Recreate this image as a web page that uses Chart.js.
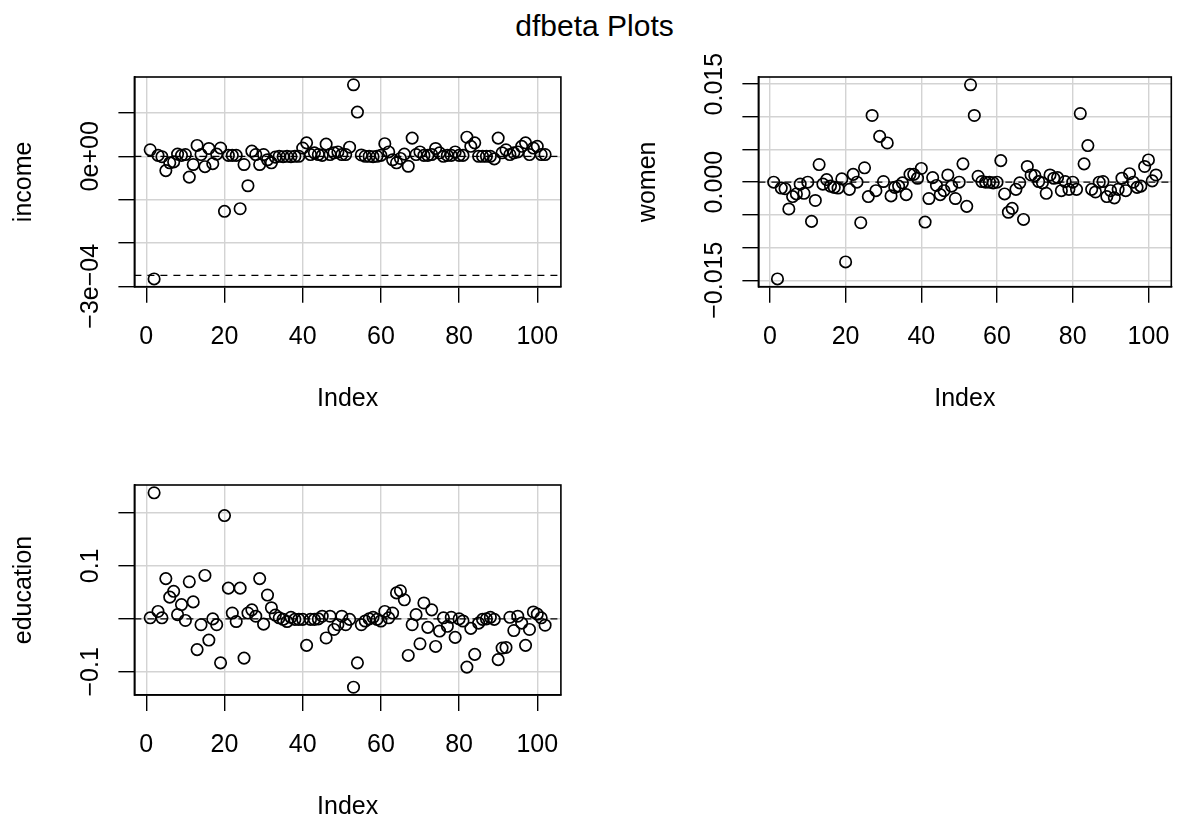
<!DOCTYPE html>
<html>
<head>
<meta charset="utf-8">
<title>dfbeta Plots</title>
<script src="https://cdn.jsdelivr.net/npm/chart.js@4.4.1/dist/chart.umd.min.js"></script>
<style>
  body { margin: 0; background: #fff; }
  #page { position: relative; width: 1189px; height: 821px; overflow: hidden; background: #fff; }
  #page canvas { position: absolute; }
  #main-title {
    position: absolute; left: 0; top: 10.6px; width: 1189px;
    text-align: center; color: #000;
    font: 30px/30px "Liberation Sans", Arial, Helvetica, sans-serif;
  }
</style>
</head>
<body>
<div id="page">
  <div id="main-title">dfbeta Plots</div>
  <canvas id="plot-income" width="594" height="415" style="left:0;top:0"></canvas>
  <canvas id="plot-women" width="595" height="415" style="left:594px;top:0"></canvas>
  <canvas id="plot-education" width="594" height="411" style="left:0;top:410px"></canvas>
</div>
<script>
// dfbeta for each coefficient, one value per observation (index 1..102)
const incomeDfbeta = [
  0.15e-4, -2.83e-4, 0.02e-4, -0.01e-4, -0.33e-4, -0.15e-4, -0.13e-4, 0.05e-4, 0.02e-4, 0.04e-4,
  -0.48e-4, -0.19e-4, 0.25e-4, 0.04e-4, -0.24e-4, 0.18e-4, -0.17e-4, 0.05e-4, 0.19e-4, -1.27e-4,
  0.02e-4, 0.02e-4, 0.02e-4, -1.21e-4, -0.19e-4, -0.68e-4, 0.12e-4, 0.04e-4, -0.19e-4, 0.04e-4,
  -0.08e-4, -0.15e-4, -0.02e-4, 0.00e-4, -0.01e-4, 0.00e-4, -0.01e-4, 0.00e-4, 0.00e-4, 0.19e-4,
  0.31e-4, 0.04e-4, 0.08e-4, 0.04e-4, 0.02e-4, 0.28e-4, 0.04e-4, 0.08e-4, 0.10e-4, 0.04e-4,
  0.04e-4, 0.21e-4, 1.65e-4, 1.02e-4, 0.03e-4, 0.00e-4, 0.00e-4, -0.01e-4, 0.00e-4, 0.02e-4,
  0.29e-4, 0.10e-4, -0.08e-4, -0.15e-4, -0.05e-4, 0.05e-4, -0.23e-4, 0.42e-4, 0.04e-4, 0.10e-4,
  0.02e-4, 0.02e-4, 0.04e-4, 0.18e-4, 0.08e-4, 0.00e-4, 0.02e-4, 0.02e-4, 0.10e-4, 0.02e-4,
  0.02e-4, 0.44e-4, 0.23e-4, 0.31e-4, 0.00e-4, 0.00e-4, 0.00e-4, 0.00e-4, -0.06e-4, 0.42e-4,
  0.08e-4, 0.15e-4, 0.04e-4, 0.08e-4, 0.10e-4, 0.23e-4, 0.31e-4, 0.04e-4, 0.19e-4, 0.23e-4,
  0.04e-4, 0.04e-4
];
const womenDfbeta = [
  0.0000, -0.0148, -0.0009, -0.0010, -0.0041, -0.0022, -0.0018, -0.0003, -0.0017, 0.0000,
  -0.0060, -0.0028, 0.0027, -0.0003, 0.0004, -0.0006, -0.0008, -0.0009, 0.0005, -0.0122,
  -0.0011, 0.0012, 0.0000, -0.0062, 0.0022, -0.0022, 0.0102, -0.0013, 0.0070, 0.0001,
  0.0060, -0.0021, -0.0008, -0.0006, -0.0001, -0.0019, 0.0012, 0.0012, 0.0006, 0.0021,
  -0.0061, -0.0025, 0.0007, -0.0005, -0.0019, -0.0013, 0.0011, -0.0006, -0.0025, 0.0000,
  0.0028, -0.0037, 0.0149, 0.0102, 0.0009, 0.0001, 0.0000, 0.0000, -0.0001, 0.0000,
  0.0033, -0.0018, -0.0046, -0.0040, -0.0011, -0.0001, -0.0057, 0.0024, 0.0011, 0.0010,
  0.0001, -0.0001, -0.0017, 0.0011, 0.0006, 0.0007, -0.0013, 0.0001, -0.0011, 0.0000,
  -0.0011, 0.0105, 0.0028, 0.0056, -0.0011, -0.0015, 0.0000, 0.0001, -0.0022, -0.0013,
  -0.0024, -0.0011, 0.0006, -0.0013, 0.0013, 0.0000, -0.0008, -0.0006, 0.0024, 0.0034,
  0.0002, 0.0011
];
const educationDfbeta = [
  0.002, 0.238, 0.014, 0.002, 0.076, 0.041, 0.052, 0.008, 0.027, -0.003,
  0.070, 0.032, -0.058, -0.011, 0.082, -0.040, 0.000, -0.011, -0.083, 0.195,
  0.058, 0.011, -0.005, 0.058, -0.074, 0.011, 0.017, 0.005, 0.076, -0.010,
  0.045, 0.021, 0.007, 0.002, -0.001, -0.005, 0.003, -0.001, -0.001, -0.001,
  -0.050, -0.001, -0.001, 0.000, 0.005, -0.036, 0.005, -0.020, -0.011, 0.005,
  -0.011, -0.001, -0.129, -0.083, -0.011, -0.004, 0.000, 0.003, -0.001, -0.004,
  0.014, 0.002, 0.011, 0.049, 0.053, 0.036, -0.069, -0.011, 0.008, -0.047,
  0.030, -0.016, 0.017, -0.052, -0.023, 0.002, -0.014, 0.003, -0.035, 0.000,
  -0.004, -0.091, -0.018, -0.067, -0.008, -0.001, 0.000, 0.003, -0.001, -0.077,
  -0.055, -0.054, 0.003, -0.022, 0.005, -0.008, -0.050, -0.020, 0.013, 0.009,
  0.002, -0.012
];

// x axis ticks (observation index)
const indexTicks = [0, 20, 40, 60, 80, 100];

// y axis ticks; blank labels are the ones R drops because they would overlap
const incomeTicks = [-3e-4, -2e-4, -1e-4, 0, 1e-4];
const incomeTickLabels = ['\u22123e\u221204', '', '', '0e+00', ''];
const womenTicks = [-0.015, -0.010, -0.005, 0, 0.005, 0.010, 0.015];
const womenTickLabels = ['\u22120.015', '', '', '0.000', '', '', '0.015'];
const educationTicks = [-0.1, 0, 0.1, 0.2];
const educationTickLabels = ['\u22120.1', '', '0.1', ''];

// dashed horizontal reference lines
const incomeRefLines = [0, -2.75e-4];
const womenRefLines = [0];
const educationRefLines = [0];

const FONT = '"Liberation Sans", Arial, Helvetica, sans-serif';
const FONT_SIZE = 25;
const TICK_LEN = 16;

Chart.defaults.font.family = FONT;
Chart.defaults.font.size = FONT_SIZE;
Chart.defaults.color = '#000';

// R style axis limits: data range stretched by 4% on each side
function paddedRange(lo, hi) {
  const d = (hi - lo) * 0.04;
  return [lo - d, hi + d];
}

// rotated y labels are centred using the widest label, so measure it the same way Chart.js does
const measureCtx = document.createElement('canvas').getContext('2d');
measureCtx.font = FONT_SIZE + 'px ' + FONT;
function widestLabel(labels) {
  return Math.max(...labels.map(t => measureCtx.measureText(t).width));
}

// box around the plot region + dashed lines
const plotBox = {
  id: 'plotBox',
  beforeDatasetsDraw(chart, args, opts) {
    const {ctx, chartArea: a} = chart;
    const y = chart.scales.y;
    ctx.save();
    ctx.strokeStyle = '#000';
    ctx.lineWidth = 1.3;
    ctx.setLineDash([7, 6]);
    (opts.lines || []).forEach(v => {
      const py = y.getPixelForValue(v);
      ctx.beginPath();
      ctx.moveTo(a.left, py);
      ctx.lineTo(a.right, py);
      ctx.stroke();
    });
    ctx.restore();
  },
  afterDatasetsDraw(chart) {
    const {ctx, chartArea: a} = chart;
    ctx.save();
    ctx.strokeStyle = '#000';
    ctx.lineWidth = 1.6;
    ctx.strokeRect(a.left, a.top, a.right - a.left, a.bottom - a.top);
    ctx.restore();
  }
};

function makePanel(canvasId, values, yName, yTicks, yTickLabels, refLines, box) {
  const canvas = document.getElementById(canvasId);
  const points = values.map((v, i) => ({x: i + 1, y: v}));
  const xr = paddedRange(1, values.length);
  const yr = paddedRange(Math.min(...values), Math.max(...values));

  const gridOpts = {
    color: '#d3d3d3', lineWidth: 1.4,
    drawTicks: true, tickLength: TICK_LEN, tickColor: '#000', tickWidth: 1.4
  };
  const borderOpts = {display: true, color: '#000', width: 1.6};

  return new Chart(canvas, {
    type: 'scatter',
    data: {
      datasets: [{
        data: points,
        pointStyle: 'circle',
        pointRadius: 5.7,
        pointBorderWidth: 1.7,
        pointBorderColor: '#000',
        pointBackgroundColor: 'rgba(0,0,0,0)'
      }]
    },
    options: {
      responsive: false,
      animation: false,
      events: [],
      layout: {padding: {left: 0, top: box.top, right: canvas.width - box.right, bottom: 0}},
      plugins: {
        legend: {display: false},
        tooltip: {enabled: false},
        plotBox: {lines: refLines}
      },
      scales: {
        x: {
          type: 'linear', position: 'bottom', bounds: 'data',
          min: xr[0], max: xr[1],
          afterBuildTicks: s => { s.ticks = indexTicks.map(v => ({value: v})); },
          afterFit: s => { s.height = canvas.height - box.bottom; },
          grid: gridOpts,
          border: borderOpts,
          ticks: {autoSkip: false, minRotation: 0, maxRotation: 0, padding: 19.3, color: '#000'},
          title: {display: true, text: 'Index', color: '#000', padding: {top: 0, bottom: box.titlePad}}
        },
        y: {
          type: 'linear', position: 'left', bounds: 'data',
          min: yr[0], max: yr[1],
          afterBuildTicks: s => { s.ticks = yTicks.map(v => ({value: v})); },
          afterFit: s => { s.width = box.left; },
          grid: gridOpts,
          border: borderOpts,
          ticks: {
            autoSkip: false, minRotation: 90, maxRotation: 90, crossAlign: 'center',
            padding: 43.1 - TICK_LEN - widestLabel(yTickLabels) / 2,
            color: '#000',
            callback: (v, i) => yTickLabels[i]
          },
          title: {display: true, text: yName, color: '#000', padding: {top: box.left - 124.8, bottom: 0}}
        }
      }
    },
    plugins: [plotBox]
  });
}

makePanel('plot-income', incomeDfbeta, 'income', incomeTicks, incomeTickLabels, incomeRefLines,
  {left: 134.4, right: 560.9, top: 77, bottom: 286.7, titlePad: 0.7});
makePanel('plot-women', womenDfbeta, 'women', womenTicks, womenTickLabels, womenRefLines,
  {left: 164.4, right: 591.7, top: 77, bottom: 286.7, titlePad: 0.7});
makePanel('plot-education', educationDfbeta, 'education', educationTicks, educationTickLabels, educationRefLines,
  {left: 134.4, right: 560.9, top: 75, bottom: 285, titlePad: -1.6});
</script>
</body>
</html>
